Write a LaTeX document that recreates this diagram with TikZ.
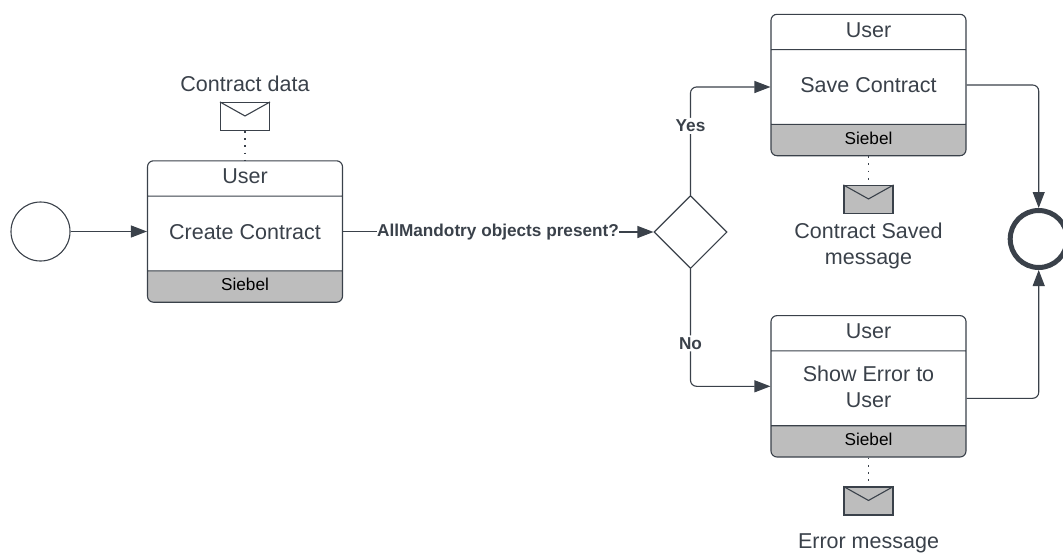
\documentclass[tikz,border=0pt]{standalone}
\usepackage{fontspec}
\setmainfont{Liberation Sans}
\usetikzlibrary{shapes}
\usetikzlibrary{shapes.multipart}
\usetikzlibrary{shapes.geometric}
\usetikzlibrary{arrows.meta}

\definecolor{ink}{HTML}{3A414A}
\definecolor{band}{HTML}{BDBDBD}
\newcommand{\bigtxt}{\fontsize{21.5}{26}\selectfont}
\newcommand{\smalltxt}{\fontsize{17.2}{20}\selectfont}
\newcommand{\cell}[2]{\parbox[c][#1pt][c]{195pt}{\centering #2\par\vspace{3.5pt}}}

\tikzset{
  task/.style={draw=ink, line width=1.1pt, rounded corners=6pt,
    rectangle split, rectangle split parts=3,
    rectangle split part fill={white,white,band},
    inner sep=0pt, text=ink, font=\bigtxt},
  envelope/.style={draw=ink, line width=1.1pt, rectangle, inner sep=0pt,
    minimum width=49pt, minimum height=28pt},
  caption/.style={text=ink, font=\bigtxt, align=center, inner sep=0pt},
  decide/.style={text=ink, font=\smalltxt\bfseries, fill=white, inner sep=2pt},
  flow/.style={color=ink, line width=1.1pt, rounded corners=6pt,
    -{Triangle[length=16pt,width=12pt]}},
  plain/.style={color=ink, line width=1.1pt},
  tie/.style={draw=ink, line width=1.8pt, dash pattern=on 1.8pt off 5.4pt}
}

\begin{document}
\begin{tikzpicture}[x=1pt, y=-1pt]
\useasboundingbox (0,0) rectangle (1063,552);

\node[draw=ink, line width=1.1pt, circle, minimum size=59pt, inner sep=0pt] (start) at (40.5,231.5) {};
\node[draw=ink, line width=5pt, circle, minimum size=57pt, inner sep=0pt] (finish) at (1038.7,239) {};

\node[task] (create) at (245,231.5)
  {\cell{34.2}{User}
     \nodepart{second} \cell{73.7}{Create Contract}
     \nodepart{third} \cell{30.2}{\smalltxt\color{black}Siebel}};
\node[task] (save) at (868.5,85)
  {\cell{34.2}{User}
     \nodepart{second} \cell{73.7}{Save Contract}
     \nodepart{third} \cell{30.2}{\smalltxt\color{black}Siebel}};
\node[task] (showerr) at (868.5,386.3)
  {\cell{34.2}{User}
     \nodepart{second} \cell{73.7}{Show Error to\\User}
     \nodepart{third} \cell{30.2}{\smalltxt\color{black}Siebel}};

\node[draw=ink, line width=1.1pt, diamond, minimum width=73pt, minimum height=73pt, inner sep=0pt, aspect=1] (choice) at (690.5,232) {};

\node[envelope] (dataenv) at (245,116.5) {};
\node[envelope, fill=band] (savedenv) at (868.5,199.5) {};
\node[envelope, fill=band] (errorenv) at (868.5,501) {};

\draw[draw=ink, line width=1.1pt] (dataenv.north west) -- ([yshift=-14pt]dataenv.north) -- (dataenv.north east);
\draw[draw=ink, line width=1.1pt] (savedenv.north west) -- ([yshift=-14pt]savedenv.north) -- (savedenv.north east);
\draw[draw=ink, line width=1.1pt] (errorenv.north west) -- ([yshift=-14pt]errorenv.north) -- (errorenv.north east);

\node[caption] (datatxt) at (245,84) {Contract data};
\node[caption] (savedtxt) at (868.5,246) {Contract Saved\\message};
\node[caption] (errortxt) at (868.5,543.8) {Error message};

\node[text=ink, font=\smalltxt\bfseries, inner sep=0pt] (ask) at (498,231.7) {AllMandotry objects present?};

\draw[flow] (start) -- (create);
\draw[plain] (create.east) -- (ask.west |- create.east);
\draw[flow] (ask.east |- choice) -- (choice);

\draw[flow] (choice.north) |- ([yshift=-2pt]save.west) node[decide, pos=0.32] (yes) {Yes};
\draw[flow] (choice.south) |- (showerr.west) node[decide, pos=0.317] (no) {No};

\draw[flow] (save.east) -| (finish.north);
\draw[flow] ([yshift=-12pt]showerr.east) -| (finish.south);

\draw[tie] (dataenv) -- (create);
\draw[tie] (save) -- (savedenv);
\draw[tie] (showerr) -- (errorenv);
\end{tikzpicture}
\end{document}
